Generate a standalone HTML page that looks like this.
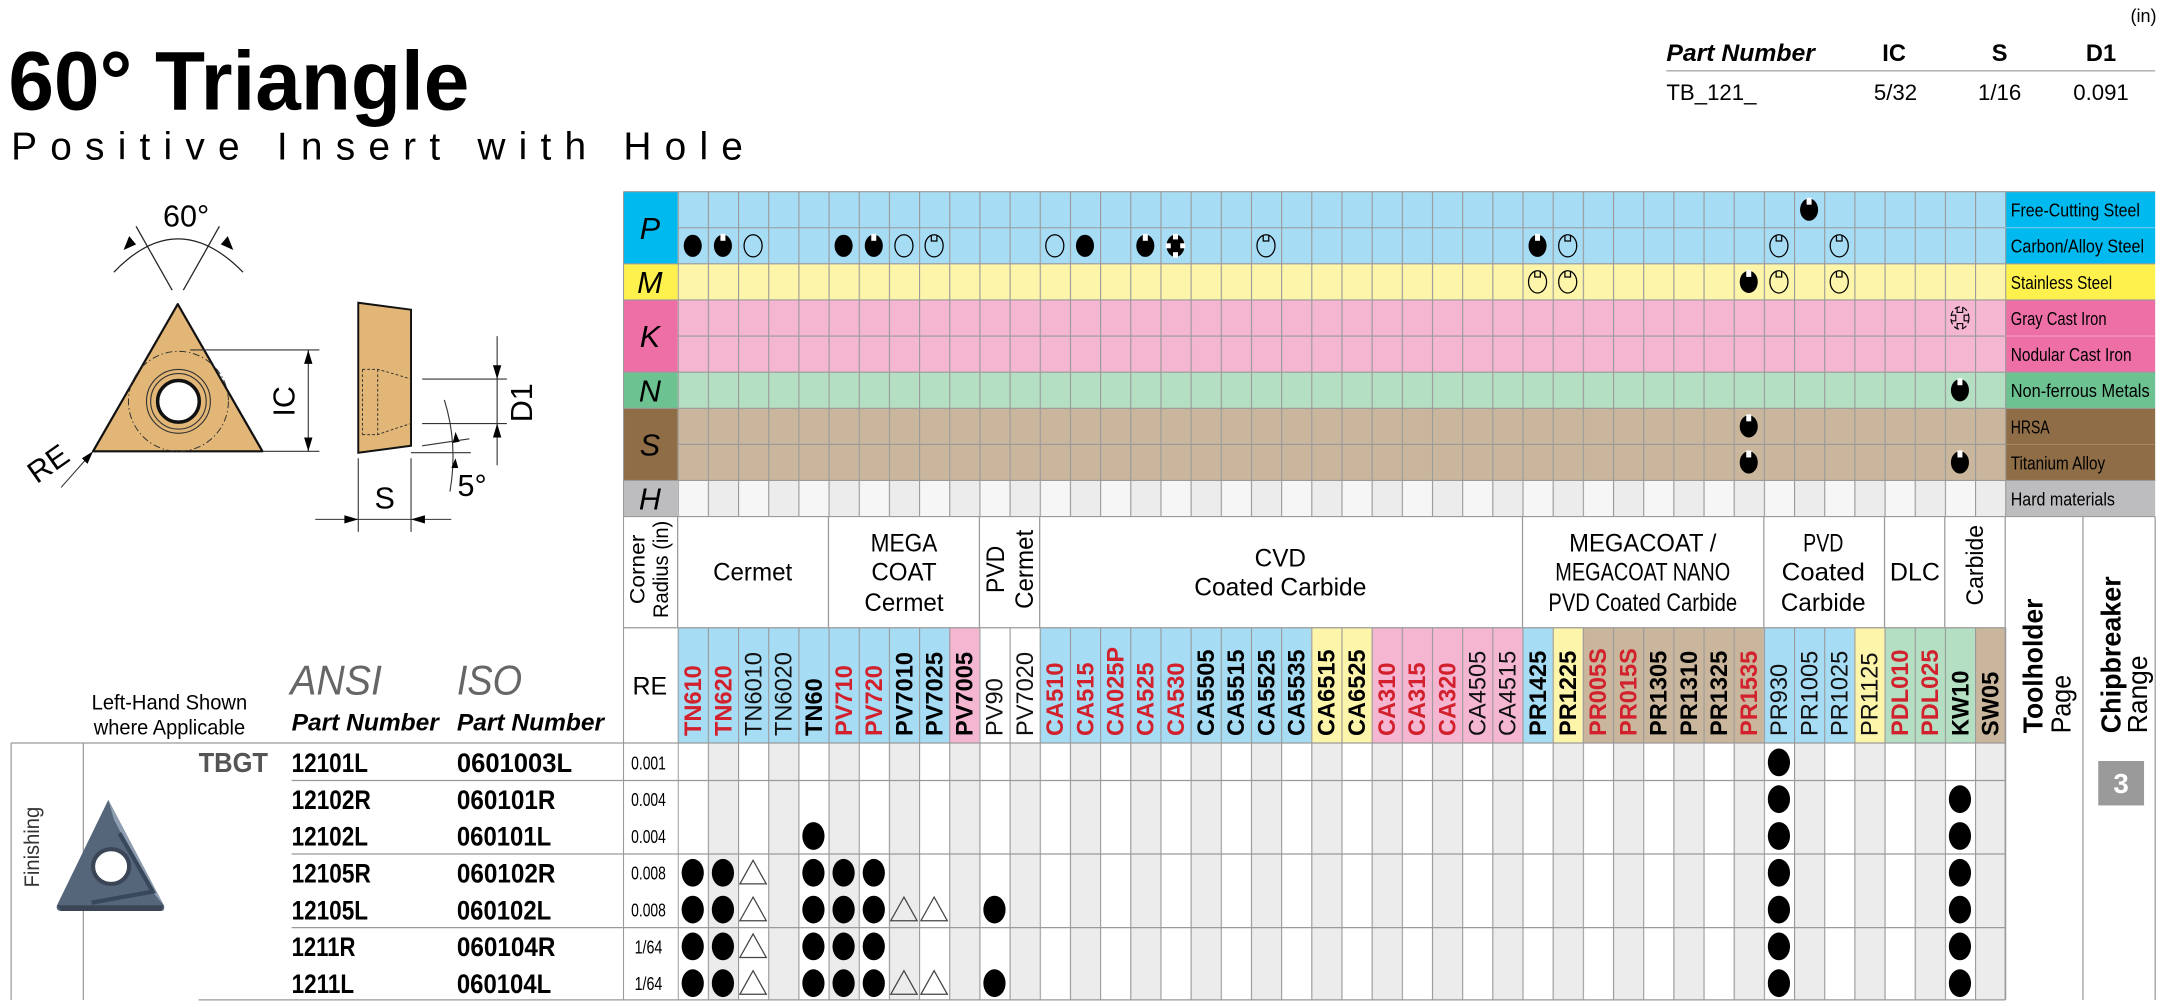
<!DOCTYPE html>
<html><head><meta charset="utf-8"><style>
html,body{margin:0;padding:0;background:#fff;width:2176px;height:1005px;overflow:hidden}
svg{display:block}
text{font-family:"Liberation Sans",sans-serif}
.n{font-family:"Liberation Sans Narrow","Liberation Sans",sans-serif}
</style></head><body>
<svg width="2176" height="1005" viewBox="0 0 1567 723.7" preserveAspectRatio="none" xmlns="http://www.w3.org/2000/svg">
<defs>
<pattern id="vl" x="488" y="0" width="21.72727" height="10" patternUnits="userSpaceOnUse"><rect x="0" y="0" width="0.8" height="10" fill="#9a9a9a"/></pattern>
<pattern id="alt" x="488" y="0" width="43.45454" height="10" patternUnits="userSpaceOnUse"><rect x="21.72727" y="0" width="21.72727" height="10" fill="#ececec"/></pattern>
<g id="fh"><ellipse rx="6.5" ry="8" fill="#000"/></g>
<g id="hn"><ellipse rx="6.5" ry="8" fill="#000"/><rect x="-1.8" y="-8.6" width="3.6" height="5" fill="#fff"/></g>
<g id="op"><ellipse rx="6.5" ry="8" fill="none" stroke="#000" stroke-width="0.9"/></g>
<g id="on"><ellipse rx="6.5" ry="8" fill="none" stroke="#000" stroke-width="0.9"/><path d="M-2,-7.8 V-3.5 H2 V-7.8" fill="none" stroke="#000" stroke-width="0.9"/></g>
<g id="cr"><ellipse rx="6.5" ry="8" fill="#000"/><rect x="-1.8" y="-8.6" width="3.6" height="4" fill="#fff"/><rect x="-1.8" y="4.6" width="3.6" height="4" fill="#fff"/><rect x="-7" y="-1.8" width="3.6" height="3.6" fill="#fff"/><rect x="3.4" y="-1.8" width="3.6" height="3.6" fill="#fff"/></g>
<g id="oc"><ellipse rx="6.5" ry="8" fill="none" stroke="#000" stroke-width="0.8" stroke-dasharray="4 2"/><path d="M-2,-8 V-4 H2 V-8 M-2,8 V4 H2 V8 M-6.5,-2 H-3 V2 H-6.5 M6.5,-2 H3 V2 H6.5" fill="none" stroke="#000" stroke-width="0.8"/></g>
<ellipse id="d" rx="8" ry="10" fill="#000"/>
<path id="t" d="M0,-9 L9.5,8 L-9.5,8Z" fill="none" stroke="#444" stroke-width="0.9"/>
</defs>

<!-- header -->
<text x="1553" y="16" font-size="13" text-anchor="end">(in)</text>
<text x="6" y="79" font-size="60" font-weight="bold" textLength="332" lengthAdjust="spacingAndGlyphs">60° Triangle</text>
<text x="8" y="115" font-size="28" textLength="527" lengthAdjust="spacing">Positive Insert with Hole</text>
<text x="1200" y="44" font-size="17" font-weight="bold" font-style="italic" textLength="107" lengthAdjust="spacingAndGlyphs">Part Number</text>
<text x="1364" y="44" font-size="17" font-weight="bold" text-anchor="middle">IC</text>
<text x="1440" y="44" font-size="17" font-weight="bold" text-anchor="middle">S</text>
<text x="1513" y="44" font-size="17" font-weight="bold" text-anchor="middle">D1</text>
<line x1="1200" y1="51" x2="1552" y2="51" stroke="#aaa" stroke-width="1"/>
<text x="1200" y="72" font-size="16">TB_121_</text>
<text x="1365" y="72" font-size="16" text-anchor="middle">5/32</text>
<text x="1440" y="72" font-size="16" text-anchor="middle">1/16</text>
<text x="1513" y="72" font-size="16" text-anchor="middle">0.091</text>

<!-- drawing -->
<g stroke="#222" fill="none" stroke-width="0.9">
<path d="M82,196 Q128,148 175,196"/>
<line x1="124" y1="209" x2="98" y2="163"/><line x1="132" y1="209" x2="158" y2="163"/>
</g>
<path d="M89,180 l4,-10 l5,6z" fill="#000"/><path d="M168,180 l-4,-10 l-5,6z" fill="#000"/>
<text x="134" y="163" font-size="22" text-anchor="middle" class="n">60°</text>
<path d="M128,219 L189,325 L67,325 Z" fill="#e2b676" stroke="#111" stroke-width="1.6" stroke-linejoin="round"/>
<circle cx="128.5" cy="289" r="36" fill="none" stroke="#333" stroke-width="0.7" stroke-dasharray="5 2 1 2"/>
<circle cx="128.5" cy="289" r="23" fill="none" stroke="#333" stroke-width="0.8"/>
<circle cx="128.5" cy="289" r="20" fill="none" stroke="#333" stroke-width="0.8"/>
<circle cx="128.5" cy="289" r="15" fill="#fff" stroke="#111" stroke-width="2.5"/>
<g stroke="#333" stroke-width="0.8" fill="none">
<line x1="137" y1="252" x2="230" y2="252"/><line x1="189" y1="325" x2="230" y2="325"/>
<line x1="222" y1="252" x2="222" y2="325"/>
</g>
<path d="M222,252 l-3,10 h6z M222,325 l-3,-10 h6z" fill="#000"/>
<text transform="translate(212,289) rotate(-90)" font-size="22" text-anchor="middle" class="n">IC</text>
<path d="M258,218 L296,223 L296,321 L258,326 Z" fill="#e2b676" stroke="#111" stroke-width="1.4"/>
<g stroke="#333" stroke-width="0.7" fill="none" stroke-dasharray="2 1.5">
<path d="M261,266 H272 Q280,268 296,273"/><path d="M261,313 H272 Q280,310 296,305"/><line x1="261" y1="266" x2="261" y2="313"/><line x1="272" y1="266" x2="272" y2="313"/>
</g>
<g stroke="#333" stroke-width="0.8" fill="none">
<line x1="304" y1="273" x2="365" y2="273"/><line x1="304" y1="305" x2="365" y2="305"/>
<line x1="358" y1="242" x2="358" y2="335"/>
<line x1="296" y1="326" x2="339" y2="326"/><line x1="304" y1="321" x2="338" y2="316"/>
<path d="M320,288 Q330,320 324,354"/>
<line x1="258" y1="330" x2="258" y2="383"/><line x1="296" y1="330" x2="296" y2="383"/>
<line x1="227" y1="374" x2="325" y2="374"/>
<line x1="44" y1="351" x2="67" y2="325"/>
</g>
<path d="M358,273 l-3,-10 h6z M358,305 l-3,10 h6z M258,374 l-10,-3 v6z M296,374 l10,-3 v6z M328,311 l-2,8 l5,-1z M328,330 l-3,7 l5,0z M67,325 l-4,9 l-4,-4z" fill="#000"/>
<text transform="translate(383,290) rotate(-90)" font-size="22" text-anchor="middle" class="n">D1</text>
<text x="340" y="357" font-size="22" text-anchor="middle" class="n">5°</text>
<text x="277" y="366" font-size="22" text-anchor="middle" class="n">S</text>
<text transform="translate(39,340) rotate(-35)" font-size="22" text-anchor="middle" class="n">RE</text>

<!-- material grid -->
<rect x="488" y="138" width="956" height="52" fill="#a6dcf4"/>
<rect x="488" y="190" width="956" height="26" fill="#fdf5a9"/>
<rect x="488" y="216" width="956" height="52" fill="#f4b6d1"/>
<rect x="488" y="268" width="956" height="26" fill="#b4dfc3"/>
<rect x="488" y="294" width="956" height="52" fill="#cab69c"/>
<rect x="488" y="346" width="956" height="26" fill="#f6f6f6"/>
<rect x="488" y="346" width="956" height="26" fill="url(#alt)"/>
<rect x="449" y="138" width="39" height="52" fill="#00b9ef"/>
<rect x="449" y="190" width="39" height="26" fill="#fff14d"/>
<rect x="449" y="216" width="39" height="52" fill="#ee6fa6"/>
<rect x="449" y="268" width="39" height="26" fill="#6cc290"/>
<rect x="449" y="294" width="39" height="52" fill="#8f6d46"/>
<rect x="449" y="346" width="39" height="26" fill="#bdbdc0"/>
<rect x="1444" y="138" width="108" height="52" fill="#00b9ef"/>
<rect x="1444" y="190" width="108" height="26" fill="#fff14d"/>
<rect x="1444" y="216" width="108" height="52" fill="#ee6fa6"/>
<rect x="1444" y="268" width="108" height="26" fill="#6cc290"/>
<rect x="1444" y="294" width="108" height="52" fill="#8f6d46"/>
<rect x="1444" y="346" width="108" height="26" fill="#bdbdc0"/>
<rect x="488" y="138" width="957" height="234" fill="url(#vl)"/>
<g stroke="#9a9a9a" stroke-width="0.8">
<line x1="488" y1="164" x2="1444" y2="164"/><line x1="488" y1="242" x2="1444" y2="242"/><line x1="488" y1="320" x2="1444" y2="320"/>
<line x1="449" y1="138" x2="1552" y2="138"/><line x1="449" y1="190" x2="1552" y2="190"/><line x1="449" y1="216" x2="1552" y2="216"/><line x1="449" y1="268" x2="1552" y2="268"/><line x1="449" y1="294" x2="1552" y2="294"/><line x1="449" y1="346" x2="1552" y2="346"/><line x1="449" y1="372" x2="1552" y2="372"/>
<line x1="1444" y1="164" x2="1552" y2="164" stroke="#7fd0f0"/><line x1="1444" y1="242" x2="1552" y2="242" stroke="#f59cc3"/><line x1="1444" y1="320" x2="1552" y2="320" stroke="#a58562"/>
<line x1="449" y1="138" x2="449" y2="720"/>
</g>
<g font-size="22" font-style="italic" text-anchor="middle">
<text x="468" y="172">P</text><text x="468" y="211">M</text><text x="468" y="250">K</text><text x="468" y="289">N</text><text x="468" y="328">S</text><text x="468" y="367">H</text>
</g>
<g font-size="13" class="n">
<text x="1448" y="156" textLength="93" lengthAdjust="spacingAndGlyphs">Free-Cutting Steel</text>
<text x="1448" y="182" textLength="96" lengthAdjust="spacingAndGlyphs">Carbon/Alloy Steel</text>
<text x="1448" y="208" textLength="73" lengthAdjust="spacingAndGlyphs">Stainless Steel</text>
<text x="1448" y="234" textLength="69" lengthAdjust="spacingAndGlyphs">Gray Cast Iron</text>
<text x="1448" y="260" textLength="87" lengthAdjust="spacingAndGlyphs">Nodular Cast Iron</text>
<text x="1448" y="286" textLength="100" lengthAdjust="spacingAndGlyphs">Non-ferrous Metals</text>
<text x="1448" y="312" textLength="28" lengthAdjust="spacingAndGlyphs">HRSA</text>
<text x="1448" y="338" textLength="68" lengthAdjust="spacingAndGlyphs">Titanium Alloy</text>
<text x="1448" y="364" textLength="75" lengthAdjust="spacingAndGlyphs">Hard materials</text>
</g>
<!-- material symbols -->
<use href="#fh" x="498.86" y="177"/><use href="#hn" x="520.59" y="177"/><use href="#op" x="542.32" y="177"/>
<use href="#fh" x="607.5" y="177"/><use href="#hn" x="629.23" y="177"/><use href="#op" x="650.95" y="177"/><use href="#on" x="672.68" y="177"/>
<use href="#op" x="759.59" y="177"/><use href="#fh" x="781.32" y="177"/><use href="#hn" x="824.77" y="177"/><use href="#cr" x="846.5" y="177"/><use href="#on" x="911.68" y="177"/>
<use href="#hn" x="1302.77" y="151"/>
<use href="#hn" x="1107.23" y="177"/><use href="#on" x="1128.95" y="177"/><use href="#on" x="1281.05" y="177"/><use href="#on" x="1324.5" y="177"/>
<use href="#on" x="1107.23" y="203"/><use href="#on" x="1128.95" y="203"/><use href="#hn" x="1259.32" y="203"/><use href="#on" x="1281.05" y="203"/><use href="#on" x="1324.5" y="203"/>
<use href="#oc" x="1411.41" y="229"/>
<use href="#hn" x="1411.41" y="281"/>
<use href="#hn" x="1259.32" y="307"/>
<use href="#hn" x="1259.32" y="333"/><use href="#hn" x="1411.41" y="333"/>

<!-- grade name row backgrounds -->
<rect x="488" y="452" width="195.55" height="83" fill="#a6dcf4"/>
<rect x="683.55" y="452" width="21.73" height="83" fill="#f4b6d1"/>
<rect x="705.27" y="452" width="43.45" height="83" fill="#ffffff"/>
<rect x="748.73" y="452" width="195.55" height="83" fill="#a6dcf4"/>
<rect x="944.27" y="452" width="43.45" height="83" fill="#fdf5a9"/>
<rect x="987.73" y="452" width="108.64" height="83" fill="#f4b6d1"/>
<rect x="1096.36" y="452" width="21.73" height="83" fill="#a6dcf4"/>
<rect x="1118.09" y="452" width="21.73" height="83" fill="#fdf5a9"/>
<rect x="1139.82" y="452" width="130.36" height="83" fill="#cab69c"/>
<rect x="1270.18" y="452" width="65.18" height="83" fill="#a6dcf4"/>
<rect x="1335.36" y="452" width="21.73" height="83" fill="#fdf5a9"/>
<rect x="1357.09" y="452" width="65.18" height="83" fill="#b4dfc3"/>
<rect x="1422.27" y="452" width="21.73" height="83" fill="#cab69c"/>
<!-- data area -->
<rect x="488" y="535" width="956" height="185" fill="url(#alt)"/>
<rect x="488" y="452" width="957" height="268" fill="url(#vl)"/>
<g stroke="#9a9a9a" stroke-width="0.9">
<line x1="449" y1="452" x2="1444" y2="452"/>
<line x1="8" y1="535" x2="1444" y2="535"/>
<line x1="210" y1="562" x2="1444" y2="562"/>
<line x1="210" y1="615" x2="1444" y2="615"/>
<line x1="210" y1="668" x2="1444" y2="668"/>
<line x1="143" y1="720" x2="1444" y2="720"/>
<line x1="488" y1="372" x2="488" y2="452"/><line x1="596.6" y1="372" x2="596.6" y2="452"/><line x1="705.3" y1="372" x2="705.3" y2="452"/><line x1="748.7" y1="372" x2="748.7" y2="452"/><line x1="1096.4" y1="372" x2="1096.4" y2="452"/><line x1="1270.2" y1="372" x2="1270.2" y2="452"/><line x1="1357.1" y1="372" x2="1357.1" y2="452"/><line x1="1400.5" y1="372" x2="1400.5" y2="452"/><line x1="1444" y1="372" x2="1444" y2="720"/>
<line x1="1500" y1="372" x2="1500" y2="720"/><line x1="1552" y1="372" x2="1552" y2="720"/>
<line x1="8" y1="535" x2="8" y2="720"/><line x1="60" y1="535" x2="60" y2="720"/>
</g>

<!-- category header -->
<g font-size="18" text-anchor="middle" class="n">
<text transform="translate(464,410) rotate(-90)" font-size="15" textLength="50" lengthAdjust="spacingAndGlyphs">Corner</text>
<text transform="translate(481,410) rotate(-90)" font-size="15" textLength="70" lengthAdjust="spacingAndGlyphs">Radius (in)</text>
<text x="542" y="418" textLength="57" lengthAdjust="spacingAndGlyphs">Cermet</text>
<text x="651" y="397" textLength="48" lengthAdjust="spacingAndGlyphs">MEGA</text>
<text x="651" y="418" textLength="47" lengthAdjust="spacingAndGlyphs">COAT</text>
<text x="651" y="440" textLength="57" lengthAdjust="spacingAndGlyphs">Cermet</text>
<text transform="translate(723,410) rotate(-90)" textLength="34" lengthAdjust="spacingAndGlyphs">PVD</text>
<text transform="translate(744,410) rotate(-90)" textLength="57" lengthAdjust="spacingAndGlyphs">Cermet</text>
<text x="922" y="408" textLength="37" lengthAdjust="spacingAndGlyphs">CVD</text>
<text x="922" y="429" textLength="124" lengthAdjust="spacingAndGlyphs">Coated Carbide</text>
<text x="1183" y="397" textLength="106" lengthAdjust="spacingAndGlyphs">MEGACOAT /</text>
<text x="1183" y="418" textLength="126" lengthAdjust="spacingAndGlyphs">MEGACOAT NANO</text>
<text x="1183" y="440" textLength="136" lengthAdjust="spacingAndGlyphs">PVD Coated Carbide</text>
<text x="1313" y="397" textLength="29" lengthAdjust="spacingAndGlyphs">PVD</text>
<text x="1313" y="418" textLength="60" lengthAdjust="spacingAndGlyphs">Coated</text>
<text x="1313" y="440" textLength="61" lengthAdjust="spacingAndGlyphs">Carbide</text>
<text x="1379" y="418" textLength="36" lengthAdjust="spacingAndGlyphs">DLC</text>
<text transform="translate(1428,407) rotate(-90)" font-size="17" textLength="58" lengthAdjust="spacingAndGlyphs">Carbide</text>
<text x="468" y="500">RE</text>
</g>
<g font-size="20">
<text transform="translate(1471,528) rotate(-90)" font-weight="bold" textLength="97" lengthAdjust="spacingAndGlyphs">Toolholder</text>
<text transform="translate(1491,528) rotate(-90)" textLength="42" lengthAdjust="spacingAndGlyphs">Page</text>
<text transform="translate(1527,528) rotate(-90)" font-weight="bold" textLength="113" lengthAdjust="spacingAndGlyphs">Chipbreaker</text>
<text transform="translate(1546,528) rotate(-90)" textLength="56" lengthAdjust="spacingAndGlyphs">Range</text>
</g>
<rect x="1511" y="548" width="33" height="32" fill="#9a9a9a"/>
<text x="1527.5" y="571" font-size="20" font-weight="bold" fill="#fff" text-anchor="middle" class="n">3</text>

<!-- grade names -->
<g font-size="17" font-weight="bold">
<g fill="#d2202c">
<text transform="translate(504.9,530) rotate(-90)">TN610</text>
<text transform="translate(526.6,530) rotate(-90)">TN620</text>
<text transform="translate(613.5,530) rotate(-90)">PV710</text>
<text transform="translate(635.2,530) rotate(-90)">PV720</text>
<text transform="translate(765.6,530) rotate(-90)">CA510</text>
<text transform="translate(787.3,530) rotate(-90)">CA515</text>
<text transform="translate(809,530) rotate(-90)">CA025P</text>
<text transform="translate(830.8,530) rotate(-90)">CA525</text>
<text transform="translate(852.5,530) rotate(-90)">CA530</text>
<text transform="translate(1004.6,530) rotate(-90)">CA310</text>
<text transform="translate(1026.3,530) rotate(-90)">CA315</text>
<text transform="translate(1048,530) rotate(-90)">CA320</text>
<text transform="translate(1156.7,530) rotate(-90)">PR005S</text>
<text transform="translate(1178.4,530) rotate(-90)">PR015S</text>
<text transform="translate(1265.3,530) rotate(-90)">PR1535</text>
<text transform="translate(1374,530) rotate(-90)">PDL010</text>
<text transform="translate(1395.7,530) rotate(-90)">PDL025</text>
</g>
<g fill="#000">
<text transform="translate(591.8,530) rotate(-90)">TN60</text>
<text transform="translate(657,530) rotate(-90)">PV7010</text>
<text transform="translate(678.7,530) rotate(-90)">PV7025</text>
<text transform="translate(700.4,530) rotate(-90)">PV7005</text>
<text transform="translate(874.2,530) rotate(-90)">CA5505</text>
<text transform="translate(896,530) rotate(-90)">CA5515</text>
<text transform="translate(917.7,530) rotate(-90)">CA5525</text>
<text transform="translate(939.4,530) rotate(-90)">CA5535</text>
<text transform="translate(961.1,530) rotate(-90)">CA6515</text>
<text transform="translate(982.9,530) rotate(-90)">CA6525</text>
<text transform="translate(1113.2,530) rotate(-90)">PR1425</text>
<text transform="translate(1135,530) rotate(-90)">PR1225</text>
<text transform="translate(1200.1,530) rotate(-90)">PR1305</text>
<text transform="translate(1221.9,530) rotate(-90)">PR1310</text>
<text transform="translate(1243.6,530) rotate(-90)">PR1325</text>
<text transform="translate(1417.4,530) rotate(-90)">KW10</text>
<text transform="translate(1439.1,530) rotate(-90)">SW05</text>
</g>
<g fill="#111" font-weight="normal">
<text transform="translate(548.3,530) rotate(-90)">TN6010</text>
<text transform="translate(570,530) rotate(-90)">TN6020</text>
<text transform="translate(722.1,530) rotate(-90)">PV90</text>
<text transform="translate(743.9,530) rotate(-90)">PV7020</text>
<text transform="translate(1069.8,530) rotate(-90)">CA4505</text>
<text transform="translate(1091.5,530) rotate(-90)">CA4515</text>
<text transform="translate(1287,530) rotate(-90)">PR930</text>
<text transform="translate(1308.8,530) rotate(-90)">PR1005</text>
<text transform="translate(1330.5,530) rotate(-90)">PR1025</text>
<text transform="translate(1352.2,530) rotate(-90)">PR1125</text>
</g>
</g>

<!-- left table header -->
<g class="n" text-anchor="middle" font-size="15">
<text x="122" y="511" textLength="112" lengthAdjust="spacingAndGlyphs">Left-Hand Shown</text>
<text x="122" y="529" textLength="109" lengthAdjust="spacingAndGlyphs">where Applicable</text>
</g>
<text x="209" y="500" font-size="30" font-style="italic" fill="#666" class="n" textLength="66" lengthAdjust="spacingAndGlyphs">ANSI</text>
<text x="329" y="500" font-size="30" font-style="italic" fill="#666" class="n" textLength="47" lengthAdjust="spacingAndGlyphs">ISO</text>
<text x="210" y="526" font-size="17" font-weight="bold" font-style="italic" class="n" textLength="106" lengthAdjust="spacingAndGlyphs">Part Number</text>
<text x="329" y="526" font-size="17" font-weight="bold" font-style="italic" class="n" textLength="106" lengthAdjust="spacingAndGlyphs">Part Number</text>
<text transform="translate(28,610) rotate(-90)" font-size="15" fill="#333" text-anchor="middle" textLength="58" lengthAdjust="spacingAndGlyphs">Finishing</text>
<!-- insert image -->
<path d="M78,576 L41,652 Q40,656 44,656 L116,656 Q119,656 118,652 Z" fill="#55657a"/>
<path d="M78,576 L82,590 L108,640 L118,652 Z" fill="#8e9db0"/>
<path d="M41,652 L118,652 L116,656 L44,656 Z" fill="#3a4656"/>
<path d="M86,600 L110,642 L66,650" fill="none" stroke="#39475a" stroke-width="3"/>
<ellipse cx="80" cy="624" rx="13" ry="12.5" fill="#fff" stroke="#3a4656" stroke-width="3"/>
<text x="143" y="556" font-size="20" font-weight="bold" fill="#555" class="n" textLength="50" lengthAdjust="spacingAndGlyphs">TBGT</text>
<g font-size="19" font-weight="bold" class="n">
<text x="210" y="556" textLength="55" lengthAdjust="spacingAndGlyphs">12101L</text>
<text x="210" y="582.5" textLength="57" lengthAdjust="spacingAndGlyphs">12102R</text>
<text x="210" y="609" textLength="55" lengthAdjust="spacingAndGlyphs">12102L</text>
<text x="210" y="635.5" textLength="57" lengthAdjust="spacingAndGlyphs">12105R</text>
<text x="210" y="662" textLength="55" lengthAdjust="spacingAndGlyphs">12105L</text>
<text x="210" y="688.5" textLength="46" lengthAdjust="spacingAndGlyphs">1211R</text>
<text x="210" y="715" textLength="45" lengthAdjust="spacingAndGlyphs">1211L</text>
<text x="329" y="556" textLength="83" lengthAdjust="spacingAndGlyphs">0601003L</text>
<text x="329" y="582.5" textLength="71" lengthAdjust="spacingAndGlyphs">060101R</text>
<text x="329" y="609" textLength="68" lengthAdjust="spacingAndGlyphs">060101L</text>
<text x="329" y="635.5" textLength="71" lengthAdjust="spacingAndGlyphs">060102R</text>
<text x="329" y="662" textLength="68" lengthAdjust="spacingAndGlyphs">060102L</text>
<text x="329" y="688.5" textLength="71" lengthAdjust="spacingAndGlyphs">060104R</text>
<text x="329" y="715" textLength="68" lengthAdjust="spacingAndGlyphs">060104L</text>
</g>
<g font-size="13" class="n" text-anchor="middle">
<text x="467" y="554" textLength="25" lengthAdjust="spacingAndGlyphs">0.001</text>
<text x="467" y="580.5" textLength="25" lengthAdjust="spacingAndGlyphs">0.004</text>
<text x="467" y="607" textLength="25" lengthAdjust="spacingAndGlyphs">0.004</text>
<text x="467" y="633.5" textLength="25" lengthAdjust="spacingAndGlyphs">0.008</text>
<text x="467" y="660" textLength="25" lengthAdjust="spacingAndGlyphs">0.008</text>
<text x="467" y="686.5" textLength="20" lengthAdjust="spacingAndGlyphs">1/64</text>
<text x="467" y="713" textLength="20" lengthAdjust="spacingAndGlyphs">1/64</text>
</g>
<!-- data dots -->
<use href="#d" x="1281.05" y="549"/>
<use href="#d" x="1281.05" y="575.5"/><use href="#d" x="1411.41" y="575.5"/>
<use href="#d" x="585.77" y="602"/><use href="#d" x="1281.05" y="602"/><use href="#d" x="1411.41" y="602"/>
<g id="r3">
<use href="#d" x="498.86" y="628.5"/><use href="#d" x="520.59" y="628.5"/><use href="#t" x="542.32" y="628.5"/>
<use href="#d" x="585.77" y="628.5"/><use href="#d" x="607.5" y="628.5"/><use href="#d" x="629.23" y="628.5"/>
<use href="#d" x="1281.05" y="628.5"/><use href="#d" x="1411.41" y="628.5"/>
</g>
<g id="r4">
<use href="#d" x="498.86" y="655"/><use href="#d" x="520.59" y="655"/><use href="#t" x="542.32" y="655"/>
<use href="#d" x="585.77" y="655"/><use href="#d" x="607.5" y="655"/><use href="#d" x="629.23" y="655"/>
<use href="#t" x="650.95" y="655"/><use href="#t" x="672.68" y="655"/><use href="#d" x="716.14" y="655"/>
<use href="#d" x="1281.05" y="655"/><use href="#d" x="1411.41" y="655"/>
</g>
<use href="#r3" x="0" y="53"/>
<use href="#r4" x="0" y="53"/>
</svg>
</body></html>
